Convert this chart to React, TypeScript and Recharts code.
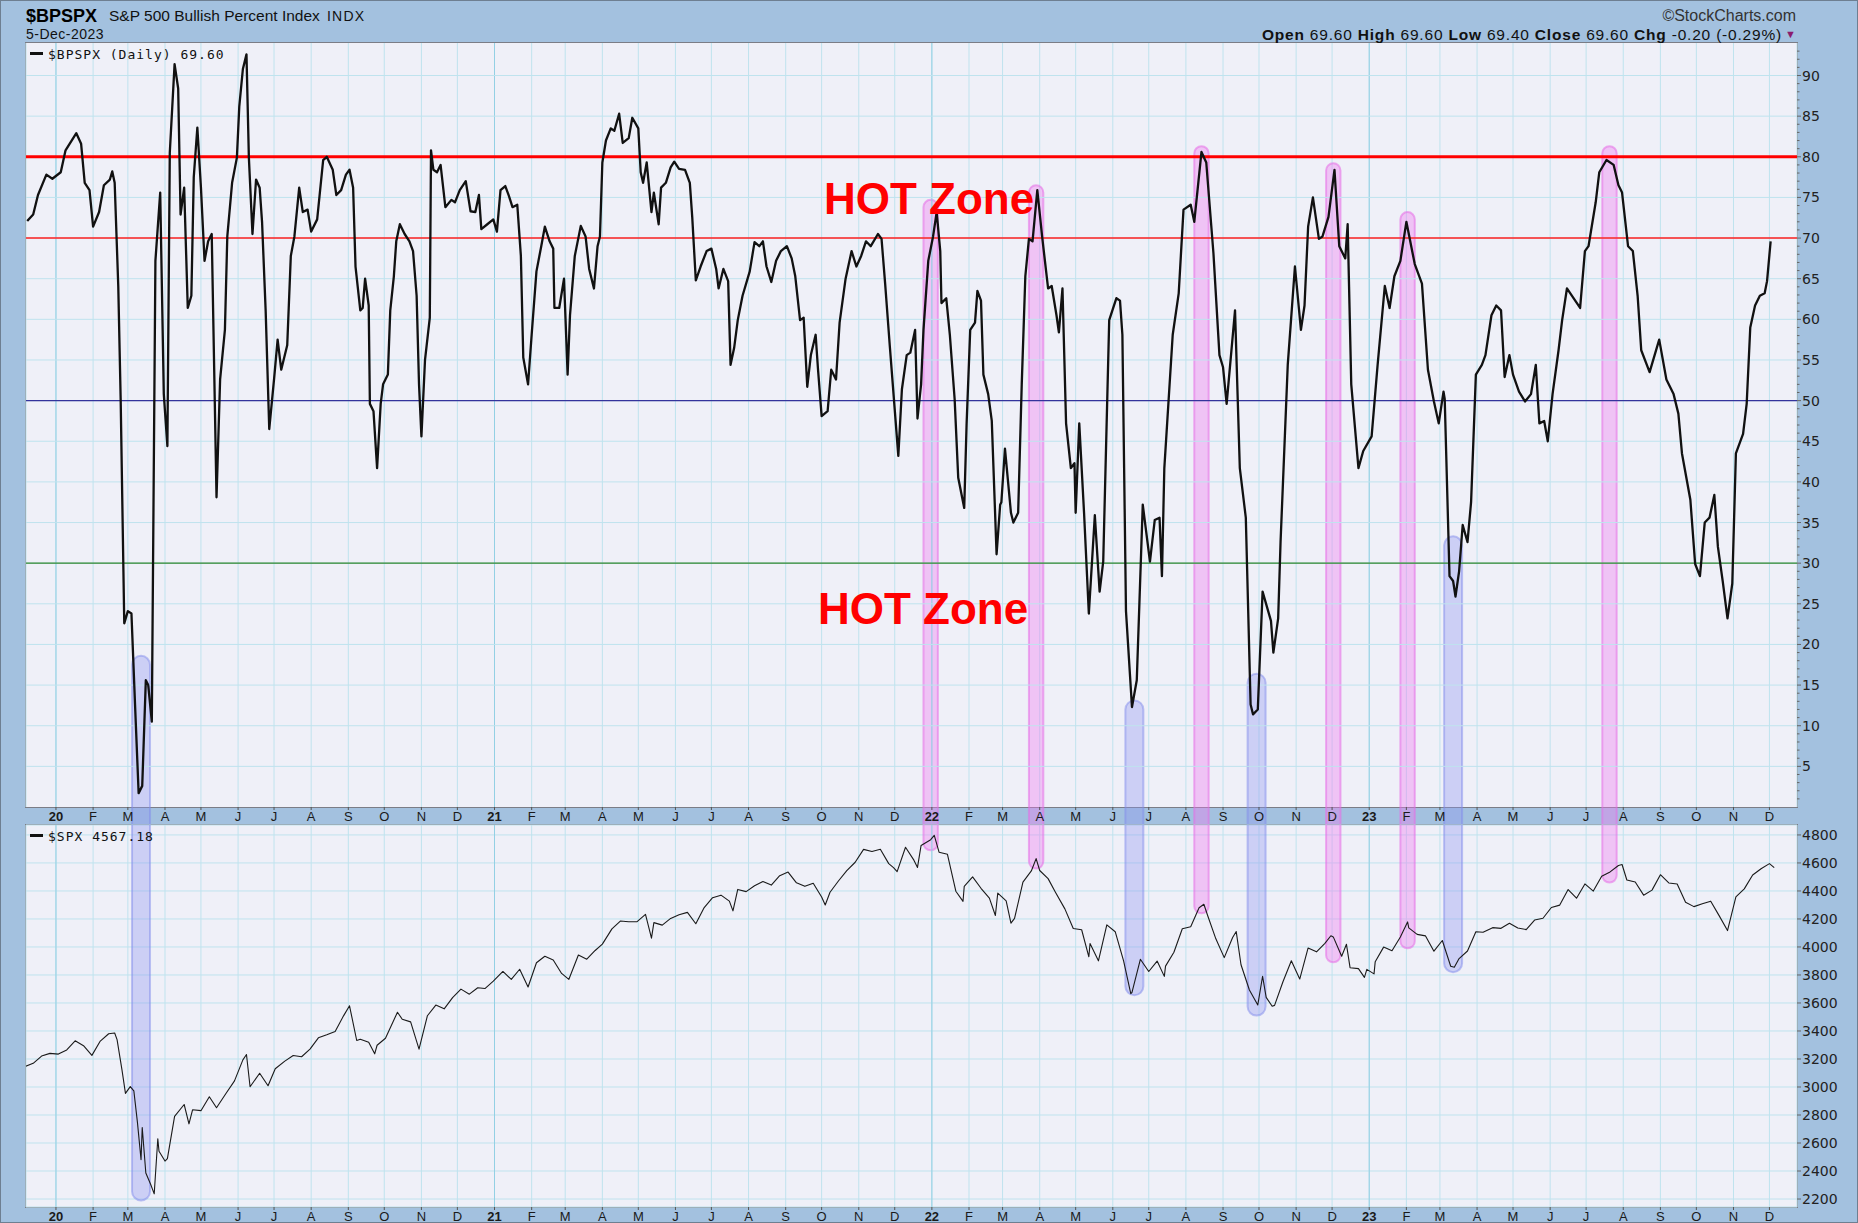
import React from "react";
import { LineChart, Line, XAxis, YAxis, CartesianGrid, ReferenceLine, ReferenceArea } from "recharts";

// ---------- data ----------
// $BPSPX daily values: [days since 2020-01-01, value]
const BP_2020: [number, number][] = [
  [-24,72.1],[-19,72.9],[-15,75.3],[-8,77.8],[-3,77.3],[4,78.1],[8,80.8],[17,82.9],[21,81.6],[24,76.8],[28,75.9],[31,71.4],[36,73.2],[40,76.5],[45,77.2],[47,78.2],[49,76.8],[52,64.1],[54,50.2],[57,22.6],[60,24.1],[63,23.8],[66,12.6],[69,1.7],[72,2.6],[75,15.6],[77,15.0],[80,10.5],[83,67.2],[87,75.6],[90,50.8],[93,44.4],[95,80.5],[99,91.4],[102,88.4],[104,72.9],[107,76.2],[110,61.4],[113,62.9],[115,77.5],[118,83.6],[121,76.2],[124,67.2],[127,69.6],[130,70.5],[134,38.1],[137,52.6],[141,58.7],[143,70.2],[147,76.8],[151,79.9],[153,86.2],[156,90.8],[159,92.6],[161,79.9],[164,70.5],[167,77.2],[170,76.2],[172,72.0],[175,61.1],[178,46.5],[182,52.6],[185,57.5],[188,53.8],[193,56.8],[196,67.8],[199,70.2],[203,76.2],[206,73.2],[210,73.5],[213,70.8],[218,72.3],[223,79.6],[226,80.0],[231,78.4],[234,75.3],[238,75.9],[242,77.8],[245,78.4],[248,76.2],[250,66.5],[254,61.1],[256,61.4],[258,65.0],[261,61.7],[262,49.6],[265,48.7],[268,41.7],[271,49.6],[273,52.0],[277,53.2],[279,61.1],[282,65.3],[284,69.6],[287,71.7],[291,70.5],[295,69.6],[298,68.4],[301,62.9],[303,52.0],[305,45.6],[308,55.0],[312,60.2],[313,80.8],[315,78.4],[318,78.1],[321,79.0],[325,73.8],[330,74.7],[333,74.4],[337,75.9],[342,77.0],[346,73.3],[350,73.2],[353,75.3],[355,71.1],[360,71.7],[365,72.3],
];
const BP_2021: [number, number][] = [
  [368,70.8],[371,75.9],[375,76.4],[378,75.2],[381,73.8],[385,74.1],[388,67.8],[390,55.3],[394,52.0],[397,58.1],[401,65.9],[405,69.0],[408,71.4],[412,69.6],[415,68.7],[416,61.4],[420,61.4],[424,65.0],[427,53.2],[429,60.5],[433,67.8],[438,71.5],[442,70.2],[445,66.2],[449,63.8],[452,69.0],[454,70.2],[456,79.3],[459,82.0],[463,83.5],[466,83.2],[470,85.3],[473,81.7],[478,82.3],[481,84.8],[486,83.5],[488,78.1],[490,76.8],[493,79.3],[497,73.2],[499,75.6],[503,71.7],[505,76.2],[509,76.8],[513,78.7],[516,79.4],[520,78.5],[525,78.4],[529,76.8],[531,72.6],[534,64.8],[538,66.5],[543,68.4],[547,68.7],[551,66.2],[553,63.8],[557,66.2],[561,64.7],[563,54.4],[566,56.5],[569,59.9],[573,62.9],[579,65.9],[583,69.5],[587,69.0],[590,69.6],[593,66.5],[597,64.6],[601,67.2],[605,68.4],[610,69.0],[614,67.5],[617,65.3],[621,59.9],[624,60.2],[627,51.7],[630,55.6],[634,58.1],[636,53.8],[639,48.1],[644,48.7],[647,53.8],[651,52.6],[654,59.6],[659,65.0],[664,68.4],[668,66.5],[672,67.8],[676,69.6],[680,69.0],[686,70.5],[689,69.9],[692,64.4],[696,56.5],[699,50.8],[703,43.2],[706,51.4],[710,55.6],[713,55.9],[717,58.7],[719,47.8],[722,52.0],[724,58.7],[728,67.2],
];
const BP_2022: [number, number][] = [
  [732,70.2],[735,73.2],[738,68.4],[739,62.0],[743,62.6],[746,58.1],[750,50.2],[753,40.5],[758,36.8],[760,47.2],[763,58.7],[767,59.6],[769,63.5],[772,62.3],[774,53.2],[778,50.8],[781,47.5],[785,31.1],[788,37.2],[789,37.5],[792,44.1],[797,36.2],[799,35.0],[803,36.2],[806,52.0],[809,65.3],[812,69.9],[815,69.6],[819,75.9],[823,70.2],[828,63.8],[831,64.1],[835,60.5],[837,58.4],[840,63.8],[843,47.2],[847,41.7],[850,42.3],[851,36.2],[854,47.2],[858,36.2],[862,23.8],[867,35.9],[871,26.5],[874,30.2],[879,59.9],[885,62.6],[888,62.3],[890,58.1],[893,24.1],[898,12.3],[902,15.6],[907,37.2],[913,30.2],[917,35.3],[921,35.6],[923,28.4],[925,41.7],[932,58.1],[937,63.2],[941,73.5],[947,74.1],[950,72.0],[956,80.6],[960,79.3],[966,68.1],[971,55.6],[974,54.1],[977,49.6],[984,61.1],[988,41.7],[993,35.6],[997,12.6],[999,11.4],[1003,12.0],[1007,26.5],[1014,22.9],[1016,19.0],[1020,23.2],[1022,32.6],[1028,54.4],[1034,66.5],[1039,58.7],[1042,61.7],[1045,71.4],[1049,75.0],[1054,69.9],[1057,70.2],[1062,72.6],[1067,78.4],[1071,69.0],[1076,67.5],[1078,71.7],[1081,52.0],[1087,41.7],[1091,43.8],
];
const BP_2023: [number, number][] = [
  [1098,45.6],[1103,54.4],[1109,64.1],[1113,61.4],[1117,65.3],[1122,67.2],[1127,72.0],[1134,66.8],[1140,64.4],[1145,53.8],[1150,49.9],[1154,47.2],[1158,51.1],[1159,50.2],[1163,28.4],[1166,27.8],[1168,25.9],[1171,29.0],[1174,34.7],[1178,32.6],[1181,37.5],[1185,53.2],[1190,54.4],[1193,55.6],[1198,60.5],[1202,61.7],[1206,61.1],[1209,52.9],[1213,55.6],[1216,53.2],[1221,51.1],[1226,49.9],[1231,50.8],[1235,54.4],[1238,47.2],[1242,47.5],[1245,45.0],[1249,50.8],[1254,56.2],[1257,59.9],[1261,63.8],[1272,61.4],[1276,68.4],[1279,69.0],[1285,74.4],[1288,78.1],[1294,79.6],[1300,79.0],[1304,76.5],[1307,75.6],[1312,69.0],[1316,68.4],[1320,62.9],[1323,56.2],[1330,53.5],[1338,57.5],[1344,52.6],[1350,50.8],[1354,48.4],[1357,43.5],[1364,37.8],[1368,29.9],[1372,28.4],[1376,35.0],[1380,35.6],[1384,38.4],[1387,32.0],[1391,27.8],[1395,23.2],[1399,27.5],[1402,43.5],[1408,45.9],[1411,49.6],[1414,59.0],[1418,61.7],[1422,62.9],[1426,63.2],[1428,64.7],[1431,69.6],
];

// $SPX closes: [date, value]
const SPX_2020: [string, number][] = [
  ["2019-12-06",3145],["2019-12-13",3169],["2019-12-20",3221],["2019-12-27",3240],
  ["2020-01-03",3235],["2020-01-10",3265],["2020-01-17",3330],["2020-01-24",3295],["2020-01-31",3226],["2020-02-07",3328],["2020-02-14",3380],["2020-02-19",3386],["2020-02-21",3338],["2020-02-25",3128],["2020-02-28",2954],["2020-03-03",3003],["2020-03-06",2972],["2020-03-09",2747],["2020-03-12",2481],["2020-03-13",2711],["2020-03-16",2386],["2020-03-20",2305],["2020-03-23",2237],["2020-03-26",2630],["2020-03-27",2541],["2020-04-01",2471],["2020-04-03",2489],["2020-04-09",2790],["2020-04-17",2875],["2020-04-21",2737],["2020-04-24",2837],["2020-05-01",2831],["2020-05-08",2930],["2020-05-14",2852],["2020-05-22",2955],["2020-05-29",3044],["2020-06-05",3194],["2020-06-08",3232],["2020-06-11",3002],["2020-06-19",3098],["2020-06-26",3009],["2020-07-02",3130],["2020-07-10",3185],["2020-07-17",3225],["2020-07-24",3216],["2020-07-31",3271],["2020-08-07",3351],["2020-08-14",3373],["2020-08-21",3397],["2020-08-28",3508],["2020-09-02",3580],["2020-09-08",3332],["2020-09-11",3341],["2020-09-18",3319],["2020-09-23",3237],["2020-09-25",3298],["2020-10-02",3348],["2020-10-12",3534],["2020-10-16",3484],["2020-10-23",3465],["2020-10-30",3270],["2020-11-06",3509],["2020-11-13",3585],["2020-11-20",3558],["2020-11-27",3638],["2020-12-04",3699],["2020-12-11",3663],["2020-12-18",3709],["2020-12-24",3703],["2020-12-31",3756],
];
const SPX_2021: [string, number][] = [
  ["2021-01-08",3825],["2021-01-15",3768],["2021-01-22",3841],["2021-01-29",3714],["2021-02-05",3887],["2021-02-12",3934],["2021-02-19",3907],["2021-02-26",3811],["2021-03-04",3768],["2021-03-12",3943],["2021-03-19",3913],["2021-03-26",3975],["2021-04-01",4020],["2021-04-09",4129],["2021-04-16",4185],["2021-04-23",4180],["2021-04-30",4181],["2021-05-07",4233],["2021-05-12",4063],["2021-05-14",4174],["2021-05-21",4156],["2021-05-28",4204],["2021-06-04",4230],["2021-06-11",4247],["2021-06-18",4166],["2021-06-25",4281],["2021-07-02",4352],["2021-07-09",4370],["2021-07-16",4327],["2021-07-19",4258],["2021-07-23",4411],["2021-07-30",4395],["2021-08-06",4437],["2021-08-13",4468],["2021-08-20",4442],["2021-08-27",4509],["2021-09-03",4535],["2021-09-10",4458],["2021-09-17",4433],["2021-09-24",4455],["2021-10-01",4357],["2021-10-04",4300],["2021-10-08",4391],["2021-10-15",4471],["2021-10-22",4545],["2021-10-29",4605],["2021-11-05",4697],["2021-11-12",4682],["2021-11-19",4698],["2021-11-26",4595],["2021-11-30",4567],["2021-12-03",4538],["2021-12-10",4712],["2021-12-17",4620],["2021-12-20",4568],["2021-12-23",4725],["2021-12-31",4766],
];
const SPX_2022: [string, number][] = [
  ["2022-01-03",4797],["2022-01-07",4677],["2022-01-14",4662],["2022-01-21",4398],["2022-01-27",4326],["2022-01-28",4432],["2022-02-04",4500],["2022-02-11",4419],["2022-02-18",4349],["2022-02-23",4225],["2022-02-25",4385],["2022-03-04",4329],["2022-03-08",4170],["2022-03-11",4204],["2022-03-18",4463],["2022-03-25",4543],["2022-03-29",4631],["2022-04-01",4546],["2022-04-08",4488],["2022-04-14",4393],["2022-04-22",4272],["2022-04-29",4132],["2022-05-06",4123],["2022-05-12",3930],["2022-05-13",4024],["2022-05-20",3901],["2022-05-27",4158],["2022-06-03",4109],["2022-06-10",3901],["2022-06-16",3667],["2022-06-17",3675],["2022-06-24",3912],["2022-07-01",3825],["2022-07-08",3899],["2022-07-14",3790],["2022-07-15",3863],["2022-07-22",3962],["2022-07-29",4130],["2022-08-05",4145],["2022-08-12",4280],["2022-08-16",4305],["2022-08-19",4228],["2022-08-26",4058],["2022-09-02",3924],["2022-09-09",4067],["2022-09-12",4110],["2022-09-16",3873],["2022-09-23",3693],["2022-09-30",3586],["2022-10-04",3791],["2022-10-07",3640],["2022-10-12",3577],["2022-10-14",3583],["2022-10-21",3752],["2022-10-28",3901],["2022-11-04",3771],["2022-11-11",3993],["2022-11-18",3965],["2022-11-25",4026],["2022-11-30",4080],["2022-12-02",4072],["2022-12-09",3934],["2022-12-13",4019],["2022-12-16",3852],["2022-12-23",3845],["2022-12-28",3783],["2022-12-30",3840],
];
const SPX_2023: [string, number][] = [
  ["2023-01-05",3808],["2023-01-06",3895],["2023-01-13",3999],["2023-01-20",3973],["2023-01-27",4071],["2023-02-02",4179],["2023-02-03",4136],["2023-02-10",4090],["2023-02-17",4079],["2023-02-24",3970],["2023-03-03",4046],["2023-03-10",3862],["2023-03-13",3855],["2023-03-17",3917],["2023-03-24",3971],["2023-03-31",4109],["2023-04-06",4105],["2023-04-14",4138],["2023-04-21",4133],["2023-04-28",4169],["2023-05-05",4136],["2023-05-12",4124],["2023-05-19",4192],["2023-05-26",4205],["2023-06-02",4282],["2023-06-09",4299],["2023-06-16",4410],["2023-06-23",4348],["2023-06-30",4450],["2023-07-07",4399],["2023-07-14",4505],["2023-07-21",4536],["2023-07-28",4582],["2023-07-31",4589],["2023-08-04",4478],["2023-08-11",4464],["2023-08-18",4370],["2023-08-25",4406],["2023-09-01",4516],["2023-09-08",4457],["2023-09-15",4450],["2023-09-22",4320],["2023-09-29",4288],["2023-10-06",4308],["2023-10-13",4327],["2023-10-20",4224],["2023-10-27",4117],["2023-11-03",4358],["2023-11-10",4415],["2023-11-17",4514],["2023-11-24",4559],["2023-12-01",4595],["2023-12-05",4567],
];

// highlight bands: [center day, top ($BPSPX value), bottom ($SPX value), kind]
const BANDS: [number, number, number, "pink" | "blue"][] = [
  [71, 18.6, 2190, "blue"],
  [730, 74.7, 4690, "pink"],
  [818, 76.5, 4560, "pink"],
  [900, 13.1, 3655, "blue"],
  [956, 81.3, 4240, "pink"],
  [1002, 16.4, 3510, "blue"],
  [1066, 79.2, 3890, "pink"],
  [1128, 73.2, 3990, "pink"],
  [1166, 33.3, 3820, "blue"],
  [1296.5, 81.3, 4460, "pink"],
];

const MONTH_LETTERS = ["J", "F", "M", "A", "M", "J", "J", "A", "S", "O", "N", "D"];
const YEARS = [2020, 2021, 2022, 2023];
const UPPER_TICKS = [5, 10, 15, 20, 25, 30, 35, 40, 45, 50, 55, 60, 65, 70, 75, 80, 85, 90];
const LOWER_TICKS = [2200, 2400, 2600, 2800, 3000, 3200, 3400, 3600, 3800, 4000, 4200, 4400, 4600, 4800];
const GUIDES: [number, string, number][] = [
  [80, "#ff0000", 3],
  [70, "#ff2020", 1.4],
  [50, "#33339c", 1.4],
  [30, "#2e872e", 1.4],
];

// ---------- layout ----------
const W = 1858, H = 1223;
const PL = 25, PR = 1796;
const UT = 42, UB = 806;
const LT = 824, LB = 1206;
const AXW = W - PR;
const UP_DOM: [number, number] = [0, 94];
const LO_DOM: [number, number] = [2143, 4871];
const X_DOM: [number, number] = [-25, 1453];

const DAY0 = Date.UTC(2020, 0, 1);
const dayOf = (s: string) => Math.round((Date.parse(s + "T00:00:00Z") - DAY0) / 86400000);

const MONTH_TICKS: number[] = [];
YEARS.forEach((y) => {
  for (let m = 0; m < 12; m++) MONTH_TICKS.push(Math.round((Date.UTC(y, m, 1) - DAY0) / 86400000));
});
const YEAR_TICKS = YEARS.map((y) => Math.round((Date.UTC(y, 0, 1) - DAY0) / 86400000));
const MINOR_TICKS: number[] = [];
for (let i = 1; i <= 93; i++) MINOR_TICKS.push(i);

const upperData = [...BP_2020, ...BP_2021, ...BP_2022, ...BP_2023].map(([d, v]) => ({ d, v }));
const lowerData = [...SPX_2020, ...SPX_2021, ...SPX_2022, ...SPX_2023].map(([s, v]) => ({ d: dayOf(s), v }));

const UP_PX_PER_UNIT = (UB - UT) / (UP_DOM[1] - UP_DOM[0]);
const STRIP_VALUE = UP_DOM[0] - (LT - UB) / UP_PX_PER_UNIT;

const BAND_STYLE = {
  pink: { fill: "rgba(238,120,238,0.38)", stroke: "rgba(230,110,230,0.55)", half: 6 },
  blue: { fill: "rgba(140,150,240,0.36)", stroke: "rgba(130,140,235,0.5)", half: 7.5 },
};

const GRID = "#bfe3ee";
const YEAR_GRID = "#93d0e4";

const makeBandShape = (roundTop: boolean, fill: string, stroke: string) => (p: any) => {
  const { x, y, width, height } = p;
  if (width == null || height == null) return null;
  const r = width / 2;
  let d: string;
  if (roundTop) {
    d = `M${x},${y + height} L${x},${y + r} A${r},${r} 0 0 1 ${x + width},${y + r} L${x + width},${y + height}`;
  } else {
    d = `M${x},${y} L${x},${y + height - r} A${r},${r} 0 0 0 ${x + width},${y + height - r} L${x + width},${y}`;
  }
  return (
    <g>
      <path d={d + " Z"} fill={fill} stroke="none" />
      <path d={d} fill="none" stroke={stroke} strokeWidth={2} />
    </g>
  );
};

const makeMonthTick = (dy: number) => (p: any) => {
  const d = p.payload.value;
  const dt = new Date(DAY0 + d * 86400000);
  const m = dt.getUTCMonth();
  const isYear = m === 0;
  const label = isYear ? String(dt.getUTCFullYear()).slice(2) : MONTH_LETTERS[m];
  return (
    <text
      x={p.x}
      y={p.y + dy}
      textAnchor="middle"
      fontFamily="'Liberation Sans', Arial, sans-serif"
      fontSize={13}
      fontWeight={isYear ? "bold" : "normal"}
      fill="#1a1a1a"
    >
      {label}
    </text>
  );
};

const UpperYTick = (p: any) => {
  const v = p.payload.value;
  const major = v % 5 === 0;
  return (
    <g>
      <line x1={p.x} x2={p.x + (major ? 4 : 2.5)} y1={p.y} y2={p.y} stroke="#666" strokeWidth={1} />
      {major && (
        <text x={p.x + 5} y={p.y} dy="0.36em" fontFamily="'DejaVu Sans', sans-serif" fontSize={14} fill="#222">
          {v}
        </text>
      )}
    </g>
  );
};

const LowerYTick = (p: any) => {
  const v = p.payload.value;
  return (
    <g>
      <line x1={p.x} x2={p.x + 4} y1={p.y} y2={p.y} stroke="#666" strokeWidth={1} />
      <text x={p.x + 5} y={p.y} dy="0.36em" fontFamily="'DejaVu Sans', sans-serif" fontSize={14} fill="#222">
        {v}
      </text>
    </g>
  );
};

const abs: React.CSSProperties = { position: "absolute", left: 0, top: 0 };

export default function App() {
  return (
    <div style={{ position: "fixed", left: 0, top: 0, width: W, height: H, background: "#a3c1df", boxSizing: "border-box", border: "1px solid #6e7f91", overflow: "hidden" }}>
      {/* plot backgrounds + borders */}
      <div style={{ position: "absolute", left: PL - 1, top: UT - 1, width: PR - PL + 2, height: UB - UT + 2, background: "#eff0f8", border: "1px solid #7b7d86", boxSizing: "border-box" }} />
      <div style={{ position: "absolute", left: PL - 1, top: LT - 1, width: PR - PL + 2, height: LB - LT + 2, background: "#eff0f8", border: "1px solid #7b7d86", boxSizing: "border-box" }} />

      {/* upper panel */}
      <div style={abs}>
        <LineChart width={W} height={H} data={upperData} margin={{ top: UT, left: PL, right: 0, bottom: H - UB - 18 }}>
          <CartesianGrid horizontal={false} vertical={true} stroke={GRID} strokeWidth={1} />
          {YEAR_TICKS.map((t) => (
            <ReferenceLine key={"yl" + t} x={t} stroke={YEAR_GRID} strokeWidth={1} />
          ))}
          {UPPER_TICKS.map((t) => (
            <ReferenceLine key={"g" + t} y={t} stroke={GRID} strokeWidth={1} />
          ))}
          <XAxis
            dataKey="d"
            type="number"
            domain={X_DOM}
            allowDataOverflow
            ticks={MONTH_TICKS}
            interval={0}
            height={18}
            tickSize={3}
            tickMargin={0}
            axisLine={false}
            tickLine={{ stroke: "#555" }}
            tick={makeMonthTick(11)}
          />
          <YAxis
            orientation="right"
            domain={UP_DOM}
            allowDataOverflow
            ticks={MINOR_TICKS}
            interval={0}
            width={AXW}
            tickSize={0}
            tickMargin={0}
            axisLine={false}
            tickLine={false}
            tick={UpperYTick}
          />
          {GUIDES.map(([v, c, w]) => (
            <ReferenceLine key={"r" + v} y={v} stroke={c} strokeWidth={w} />
          ))}
          {BANDS.map(([c, top, , kind], i) => {
            const st = BAND_STYLE[kind];
            return (
              <ReferenceArea
                key={"ub" + i}
                x1={c - st.half}
                x2={c + st.half}
                y1={STRIP_VALUE}
                y2={top}
                ifOverflow="visible"
                shape={makeBandShape(true, st.fill, st.stroke)}
              />
            );
          })}
          <Line
            dataKey="v"
            type="linear"
            stroke="#111"
            strokeWidth={2.3}
            strokeLinejoin="round"
            dot={false}
            activeDot={false}
            isAnimationActive={false}
          />
        </LineChart>
      </div>

      {/* lower panel */}
      <div style={abs}>
        <LineChart width={W} height={H} data={lowerData} margin={{ top: LT, left: PL, right: 0, bottom: 0 }}>
          <CartesianGrid horizontal={true} vertical={true} stroke={GRID} strokeWidth={1} />
          {YEAR_TICKS.map((t) => (
            <ReferenceLine key={"yl" + t} x={t} stroke={YEAR_GRID} strokeWidth={1} />
          ))}
          <XAxis
            dataKey="d"
            type="number"
            domain={X_DOM}
            allowDataOverflow
            ticks={MONTH_TICKS}
            interval={0}
            height={H - LB}
            tickSize={3}
            tickMargin={0}
            axisLine={false}
            tickLine={{ stroke: "#555" }}
            tick={makeMonthTick(10.5)}
          />
          <YAxis
            orientation="right"
            domain={LO_DOM}
            allowDataOverflow
            ticks={LOWER_TICKS}
            interval={0}
            width={AXW}
            tickSize={0}
            tickMargin={0}
            axisLine={false}
            tickLine={false}
            tick={LowerYTick}
          />
          {BANDS.map(([c, , bottom, kind], i) => {
            const st = BAND_STYLE[kind];
            return (
              <ReferenceArea
                key={"lb" + i}
                x1={c - st.half}
                x2={c + st.half}
                y1={bottom}
                y2={LO_DOM[1]}
                ifOverflow="visible"
                shape={makeBandShape(false, st.fill, st.stroke)}
              />
            );
          })}
          <Line
            dataKey="v"
            type="linear"
            stroke="#1a1a1a"
            strokeWidth={1.1}
            strokeLinejoin="round"
            dot={false}
            activeDot={false}
            isAnimationActive={false}
          />
        </LineChart>
      </div>

      {/* texts */}
      <svg width={W} height={H} style={{ ...abs, pointerEvents: "none" }}>
        <g fontFamily="'Liberation Sans', Arial, sans-serif">
          <text x={25} y={21} fontSize={18} fontWeight="bold" fill="#000">$BPSPX</text>
          <text x={108} y={20} fontSize={15.5} fill="#111">S&amp;P 500 Bullish Percent Index</text>
          <text x={326} y={20} fontSize={14} fill="#111" letterSpacing={1.2}>INDX</text>
          <text x={25} y={38} fontSize={14} fill="#111" letterSpacing={0.5}>5-Dec-2023</text>
          <text x={1795} y={20} fontSize={16} fill="#333" textAnchor="end">©StockCharts.com</text>
          <text x={1781} y={38.5} fontSize={15.5} fill="#111" textAnchor="end" letterSpacing={0.8}>
            <tspan fontWeight="bold">Open</tspan> 69.60  <tspan fontWeight="bold">High</tspan> 69.60  <tspan fontWeight="bold">Low</tspan> 69.40  <tspan fontWeight="bold">Close</tspan> 69.60  <tspan fontWeight="bold">Chg</tspan> -0.20 (-0.29%)
          </text>
          <text x={1784} y={37} fontSize={11} fill="#8a1c6e">▼</text>
        </g>
        <g fontFamily="'DejaVu Sans Mono', monospace" fontSize={13} fill="#111" letterSpacing={1}>
          <rect x={29} y={51} width={13} height={3} fill="#111" />
          <text x={47} y={58}>$BPSPX (Daily) 69.60</text>
          <rect x={29} y={833} width={13} height={3} fill="#111" />
          <text x={47} y={840}>$SPX 4567.18</text>
        </g>
        <g fontFamily="'Liberation Sans', Arial, sans-serif" fontWeight="bold" fontSize={44} fill="#ff0000">
          <text x={823} y={213}>HOT Zone</text>
          <text x={817} y={623}>HOT Zone</text>
        </g>
      </svg>
    </div>
  );
}
